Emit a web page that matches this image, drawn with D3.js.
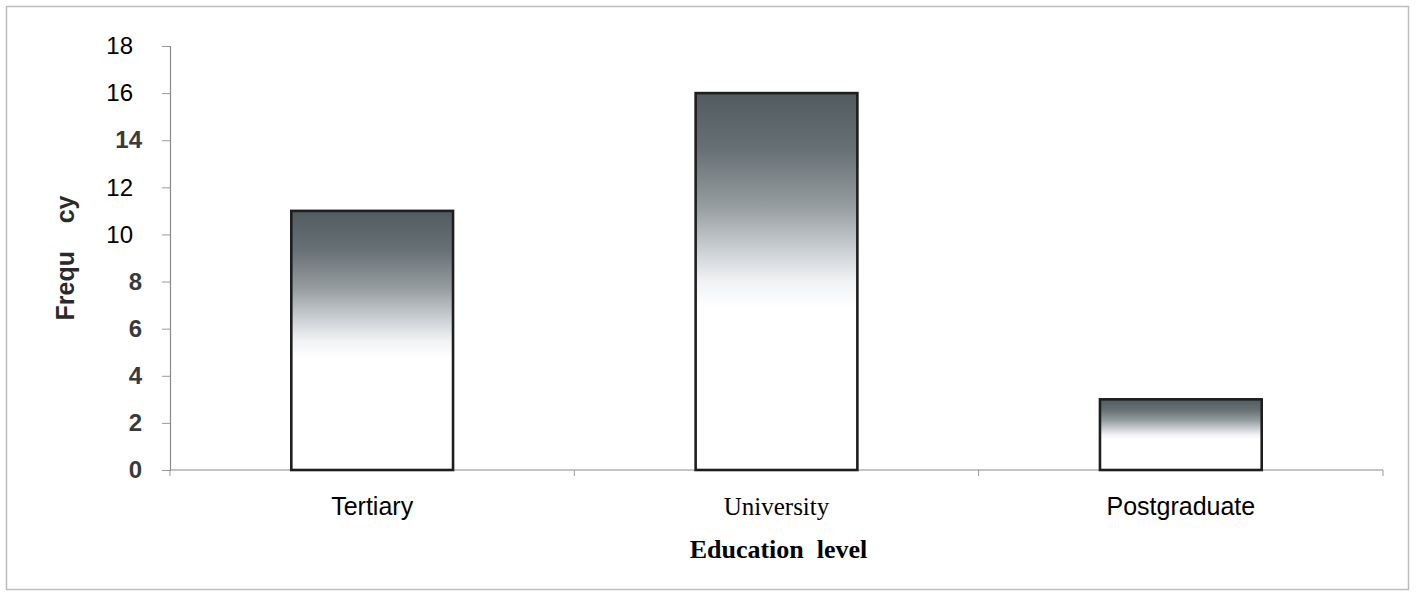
<!DOCTYPE html>
<html>
<head>
<meta charset="utf-8">
<script src="https://cdn.jsdelivr.net/npm/d3@7"></script>
<style>
  html, body { margin: 0; padding: 0; background: #fff; }
  svg { display: block; }
</style>
</head>
<body>
<svg id="chart" width="1416" height="593"></svg>
<script>
// Education level counts
const categories = ["Tertiary", "University", "Postgraduate"];
const frequencies = [11, 16, 3];
const yTicks = [0, 2, 4, 6, 8, 10, 12, 14, 16, 18];

const svg = d3.select("#chart");
const W = 1416, H = 593;
const margin = { left: 170, right: 33, top: 46, bottom: 123 };

// outer frame
svg.append("rect")
  .attr("x", 6.5).attr("y", 6.5)
  .attr("width", W - 14).attr("height", H - 10)
  .attr("fill", "#fff")
  .attr("stroke", "#bdbdbd").attr("stroke-width", 1.5);

const x = d3.scaleBand()
  .domain(categories)
  .range([margin.left, W - margin.right])
  .paddingInner(0.6).paddingOuter(0.3);

const y = d3.scaleLinear()
  .domain([0, 18])
  .range([H - margin.bottom, margin.top]);

// vertical fill: dark slate at the top fading to white
const defs = svg.append("defs");
const grad = defs.append("linearGradient")
  .attr("id", "barFill")
  .attr("x1", 0).attr("y1", 0).attr("x2", 0).attr("y2", 1);
[
  [0, "#525c60"],
  [0.15, "#677074"],
  [0.3, "#969da1"],
  [0.42, "#cdd1d5"],
  [0.5, "#f1f2f4"],
  [0.57, "#ffffff"],
  [1, "#ffffff"]
].forEach(([o, c]) => grad.append("stop").attr("offset", o).attr("stop-color", c));

// y axis
const plainTick = d => d === 10 || d === 12 || d >= 16;
const yAxis = svg.append("g")
  .attr("transform", `translate(${margin.left},0)`)
  .call(d3.axisLeft(y).tickValues(yTicks).tickSize(8).tickPadding(29).tickFormat(d3.format("d")));
yAxis.select(".domain").attr("stroke", "#8a8a8a").attr("stroke-width", 1.2);
yAxis.selectAll(".tick line").attr("stroke", "#9a9a9a");
yAxis.selectAll(".tick text")
  .attr("font-family", "Liberation Sans, Arial, sans-serif")
  .attr("font-size", 24)
  .attr("dx", d => plainTick(d) ? 0 : 9)
  .attr("fill", d => plainTick(d) ? "#000" : "#3a3a3a")
  .attr("font-weight", d => plainTick(d) ? "normal" : "bold");

// x axis with separators between categories
const baseY = y(0);
svg.append("line")
  .attr("x1", margin.left).attr("x2", W - margin.right)
  .attr("y1", baseY).attr("y2", baseY)
  .attr("stroke", "#8a8a8a").attr("stroke-width", 1.2);
const seps = d3.range(categories.length + 1).map(i => margin.left + i * (W - margin.left - margin.right) / categories.length);
svg.selectAll(".sep").data(seps).join("line")
  .attr("x1", d => d).attr("x2", d => d)
  .attr("y1", baseY).attr("y2", baseY + 6)
  .attr("stroke", "#9a9a9a");

// bars
svg.selectAll(".bar").data(categories).join("rect")
  .attr("class", "bar")
  .attr("x", d => x(d))
  .attr("width", x.bandwidth())
  .attr("y", (d, i) => y(frequencies[i]))
  .attr("height", (d, i) => baseY - y(frequencies[i]))
  .attr("fill", "url(#barFill)")
  .attr("stroke", "#1e1e1e").attr("stroke-width", 2.6);

// category labels
const catFonts = {
  "Tertiary": "Liberation Sans, Arial, sans-serif",
  "University": "Liberation Serif, Times New Roman, serif",
  "Postgraduate": "Liberation Sans, Arial, sans-serif"
};
svg.selectAll(".cat").data(categories).join("text")
  .attr("x", d => x(d) + x.bandwidth() / 2)
  .attr("y", 515)
  .attr("text-anchor", "middle")
  .attr("font-family", d => catFonts[d])
  .attr("font-size", 25)
  .attr("fill", "#000")
  .text(d => d);

// axis titles
svg.append("text")
  .attr("x", x("University") + x.bandwidth() / 2 + 2)
  .attr("y", 558)
  .attr("text-anchor", "middle")
  .attr("font-family", "Liberation Serif, Times New Roman, serif")
  .attr("font-weight", "bold")
  .attr("font-size", 26)
  .style("white-space", "pre")
  .text("Education  level");

svg.append("text")
  .attr("transform", "translate(74,258) rotate(-90)")
  .attr("text-anchor", "middle")
  .attr("font-family", "Liberation Sans, Arial, sans-serif")
  .attr("font-weight", "bold")
  .attr("font-size", 25)
  .attr("fill", "#2a2a2a")
  .style("white-space", "pre")
  .text("Frequ    cy");
</script>
</body>
</html>
